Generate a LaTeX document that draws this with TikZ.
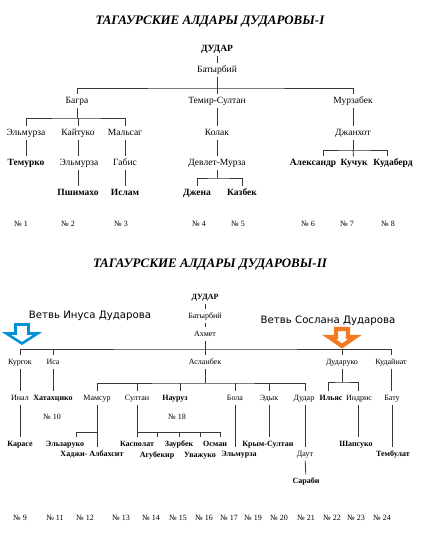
\documentclass[tikz,border=0pt]{standalone}
\usepackage{fontspec}
\setmainfont{Liberation Serif}
\newfontfamily\vetvfont{DejaVu Sans}
\usetikzlibrary{calc}
\definecolor{InusBlue}{RGB}{0,146,214}
\definecolor{SoslanOrange}{RGB}{242,122,32}
\definecolor{TreeLine}{RGB}{55,55,55}
\tikzset{
  nm/.style={font=\fontsize{9.5}{10}\selectfont,inner xsep=1pt,inner ysep=2.5pt,
             text height=6.5pt,text depth=1.5pt},
  bnm/.style={nm,font=\fontsize{9.5}{10}\selectfont\bfseries},
  sm/.style={nm,font=\fontsize{8}{9}\selectfont},
  bsm/.style={nm,font=\fontsize{8}{9}\selectfont\bfseries},
  num/.style={font=\fontsize{8}{9}\selectfont},
  ttl/.style={font=\fontsize{13}{15}\selectfont\bfseries\itshape},
  vetv/.style={font=\vetvfont\fontsize{10.2}{12}\selectfont},
  link/.style={line width=0.8pt,TreeLine},
  brarrow/.style={line width=2.6pt,fill=white,line join=miter},
}

\begin{document}
\begin{tikzpicture}[x=1pt,y=-1pt]
  \useasboundingbox (0,0) rectangle (430,536);

  \node[ttl] (title1) at (210,22) {ТАГАУРСКИЕ АЛДАРЫ ДУДАРОВЫ-I};
  \node[bnm] (dudar1) at (217,49) {ДУДАР};
  \node[nm] (batyr1) at (217,70) {Батырбий};
  \node[nm] (bagra) at (77,101) {Багра};
  \node[nm] (temir) at (217,101) {Темир-Султан};
  \node[nm] (murza) at (353,101) {Мурзабек};
  \node[nm] (elmA) at (26,133) {Эльмурза};
  \node[nm] (kait) at (78,133) {Кайтуко};
  \node[nm] (malsag) at (125,133) {Мальсаг};
  \node[nm] (kolak) at (217,133) {Колак};
  \node[nm] (dzhan) at (353,133) {Джанхот};
  \node[bnm] (temurko) at (26,163) {Темурко};
  \node[nm] (elmB) at (79,163) {Эльмурза};
  \node[nm] (gabis) at (125,163) {Габис};
  \node[nm] (devlet) at (217,163) {Девлет-Мурза};
  \node[bnm] (aleks) at (313,163) {Александр};
  \node[bnm] (kuchuk) at (354,163) {Кучук};
  \node[bnm] (kudab) at (393,163) {Кудаберд};
  \node[bnm] (pshim) at (78,193) {Пшимахо};
  \node[bnm] (islam) at (125,193) {Ислам};
  \node[bnm] (dzhena) at (197,193) {Джена};
  \node[bnm] (kazbek) at (242,193) {Казбек};
  \foreach \x/\k in {21/1,68/2,121/3,199/4,238/5,308/6,347/7,388/8}
    \node[num] (n\k) at (\x,224) {№ \k};

  \coordinate (b0) at (217,88);
  \coordinate (b1) at (77,118);
  \coordinate (b2) at (217,178);
  \coordinate (b3) at (353,150);
  \draw[link] (dudar1) -- (batyr1);
  \draw[link] (batyr1) -- (b0);
  \draw[link] (bagra.north) |- (b0) -| (murza.north);
  \draw[link] (b0) -- (temir);
  \draw[link] (bagra) -- (b1);
  \draw[link] (elmA.north) |- (b1) -| (malsag.north);
  \draw[link] (kait |- b1) -- (kait);
  \draw[link] (elmA) -- (temurko);
  \draw[link] (kait) -- (kait |- elmB.north);
  \draw[link] (pshim |- elmB.south) -- (pshim);
  \draw[link] (malsag) -- (gabis);
  \draw[link] (gabis) -- (islam);
  \draw[link] (temir) -- (kolak);
  \draw[link] (kolak) -- (devlet);
  \draw[link] (devlet) -- (b2);
  \draw[link] (dzhena.north) |- (b2) -| (kazbek.north);
  \draw[link] (murza) -- (dzhan);
  \draw[link] (dzhan) -- (b3);
  \draw[link] ([xshift=10pt]aleks.north) |- (b3) -| ([xshift=-6pt]kudab.north);
  \draw[link] (b3) -- (kuchuk);

  \node[ttl] (title2) at (210,265) {ТАГАУРСКИЕ АЛДАРЫ ДУДАРОВЫ-II};
  \node[bsm] (dudar2) at (205,297) {ДУДАР};
  \node[sm] (batyr2) at (205,316) {Батырбий};
  \node[sm] (ahmet) at (205,334) {Ахмет};
  \node[vetv] (vInus) at (90,316) {Ветвь Инуса Дударова};
  \node[vetv] (vSoslan) at (328,321) {Ветвь Сослана Дударова};
  \node[sm] (kurgok) at (20,362) {Кургок};
  \node[sm] (isa) at (53,362) {Иса};
  \node[sm] (aslan) at (205,362) {Асланбек};
  \node[sm] (dudaruko) at (342,362) {Дударуко};
  \node[sm] (kudain) at (391,362) {Кудайнат};
  \node[sm] (inal) at (20,398) {Инал};
  \node[bsm] (khatakh) at (53,398) {Хатахцико};
  \node[sm] (mamsur) at (97,398) {Мамсур};
  \node[sm] (sultan) at (137,398) {Султан};
  \node[bsm] (nauruz) at (175,398) {Науруз};
  \node[sm] (bola) at (235,398) {Бола};
  \node[sm] (edyk) at (269,398) {Эдык};
  \node[sm] (dudarB) at (304,398) {Дудар};
  \node[bsm] (ilyas) at (331,398) {Ильяс};
  \node[sm] (indris) at (359,398) {Индрис};
  \node[sm] (batu) at (392,398) {Бату};
  \node[num] (n10) at (52,417) {№ 10};
  \node[num] (n18) at (177,417) {№ 18};
  \node[bsm] (karase) at (20,444) {Карасе};
  \node[bsm] (elzar) at (65,444) {Эльзаруко};
  \node[bsm] (hadzhi) at (92,454) {Хаджи- Албахсит};
  \node[bsm] (kaspol) at (137,444) {Касполат};
  \node[bsm] (agub) at (157,455) {Агубекир};
  \node[bsm] (zaur) at (179,444) {Заурбек};
  \node[bsm] (uvazh) at (200,455) {Уважуко};
  \node[bsm] (osman) at (215,444) {Осман};
  \node[bsm] (elmC) at (239,454) {Эльмурза};
  \node[bsm] (krym) at (268,444) {Крым-Султан};
  \node[sm] (daut) at (305,454) {Даут};
  \node[bsm] (sarabi) at (306,481) {Сараби};
  \node[bsm] (shaps) at (356,444) {Шапсуко};
  \node[bsm] (tembul) at (393,454) {Тембулат};
  \foreach \x/\k in {20/9,55/11,85/12,121/13,151/14,178/15,204/16,229/17,253/19,279/20,306/21,332/22,356/23,382/24}
    \node[num] (n\k) at (\x,518) {№ \k};

  \draw[brarrow,draw=InusBlue] (15.5,324.5) -- (28.5,324.5) -- (28.5,333.5) -- (37.5,333.5)
    -- (22,343.5) -- (6.5,333.5) -- (15.5,333.5) -- cycle;
  \draw[brarrow,draw=SoslanOrange,line width=4.2pt] (336,329) -- (348,329) -- (348,337) -- (355,337)
    -- (342,346) -- (329,337) -- (336,337) -- cycle;

  \coordinate (c0) at (205,349);
  \coordinate (c1) at (205,383);
  \coordinate (c2) at (342,382);
  \coordinate (c3) at (97,432);
  \coordinate (c4) at (137,432);
  \draw[link] (dudar2) -- (batyr2);
  \draw[link] (batyr2) -- (ahmet);
  \draw[link] (ahmet) -- (c0);
  \draw[link] (kurgok.north) |- (c0) -| (kudain.north);
  \draw[link] (isa |- c0) -- (isa);
  \draw[link] (c0) -- (aslan);
  \draw[link] (dudaruko |- c0) -- (dudaruko);
  \draw[link] (kurgok) -- (inal);
  \draw[link] (isa) -- (khatakh);
  \draw[link] (aslan) -- (c1);
  \draw[link] (mamsur.north) |- (c1) -| ([xshift=1pt]dudarB.north);
  \draw[link] (sultan |- c1) -- (sultan);
  \draw[link] ([xshift=5pt]nauruz.north |- c1) -- ([xshift=5pt]nauruz.north);
  \draw[link] (bola |- c1) -- (bola);
  \draw[link] (edyk |- c1) -- (edyk);
  \draw[link] (dudaruko) -- (c2);
  \draw[link] ([xshift=-3pt]ilyas.north) |- (c2) -| ([xshift=-1pt]indris.north);
  \draw[link] (kudain) -- (kudain |- batu.north);
  \draw[link] (inal) -- (karase);
  \draw[link] (mamsur) -- (mamsur |- hadzhi.north);
  \draw[link] (c3) -| ([xshift=11pt]elzar.north);
  \draw[link] (sultan) -- (sultan |- kaspol.north);
  \draw[link] (c4) -| ([xshift=5pt]osman.north);
  \foreach \n in {agub,zaur,uvazh}
    \draw[link] (\n |- c4) -- (\n |- osman.north);
  \draw[link] (bola) -- (bola |- elmC.north);
  \draw[link] (edyk) -- (edyk |- krym.north);
  \draw[link] ([xshift=1pt]dudarB.south) -- ([xshift=1pt]dudarB.south |- daut.north);
  \draw[link] (daut) -- (sarabi);
  \draw[link] ([xshift=-1pt]indris.south) -- ([xshift=-1pt]indris.south |- shaps.north);
  \draw[link] (batu) -- (batu |- tembul.north);
\end{tikzpicture}
\end{document}
